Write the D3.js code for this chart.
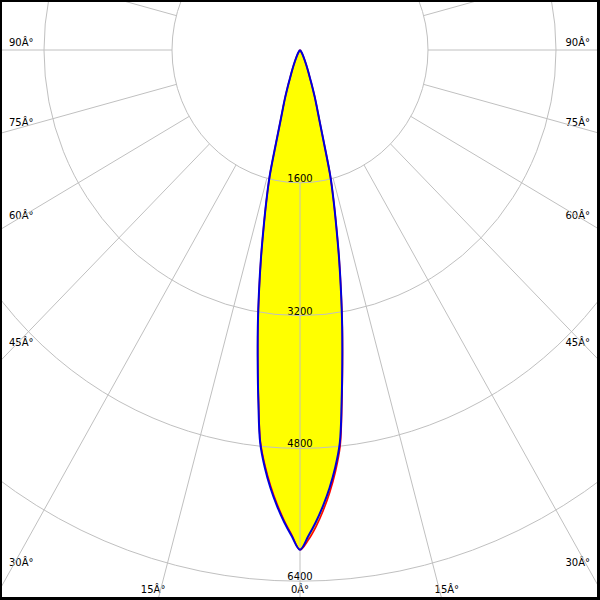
<!DOCTYPE html>
<html>
<head>
<meta charset="utf-8">
<script src="https://cdn.jsdelivr.net/npm/d3@7"></script>
<style>
html,body{margin:0;padding:0;background:#fff;}
svg{display:block;}
</style>
</head>
<body>
<script>
// ---- data ----
const angles = [0,1,2,3,4,5,6,7,8,9,10,11,12,13,14,15,16,17,18,19,20,22,25,30,35,40,50,60,70,80,90];
const blueRight = [6020,5860,5690,5500,5290,5050,4760,4270,3800,3370,2950,2560,2190,1870,1570,1150,880,720,600,480,380,260,150,70,30,12,3,0,0,0,0];
const blueLeft  = [6020,5860,5690,5500,5290,5050,4760,4270,3800,3370,2950,2560,2190,1870,1570,1150,880,720,600,480,380,260,150,70,30,12,3,0,0,0,0];
const redRight  = [6020,5905,5745,5555,5340,5095,4800,4295,3815,3380,2958,2566,2195,1873,1571,1150,880,720,600,480,380,260,150,70,30,12,3,0,0,0,0];
const redLeft   = [6020,5845,5672,5478,5265,5025,4740,4255,3790,3362,2945,2555,2188,1868,1568,1150,880,720,600,480,380,260,150,70,30,12,3,0,0,0,0];
const radialTicks = [1600,3200,4800,6400];
const sideTicks = [90,75,60,45,30];
const sideLabels = ["90Â°","75Â°","60Â°","45Â°","30Â°"];
const bottomTicks = [-15,0,15];
const bottomLabels = ["15Â°","0Â°","15Â°"];
const gridAngleStep = 15;

// ---- layout ----
const W = 600, H = 600;
const cx = 300, cy = 50;
const rx = d3.scaleLinear().domain([0,6400]).range([0,512]);
const ry = d3.scaleLinear().domain([0,6400]).range([0,531.2]);
const rad = d => d*Math.PI/180;
const pt = (a, I) => [cx + rx(I)*Math.sin(rad(a)), cy + ry(I)*Math.cos(rad(a))];

const svg = d3.select("body").append("svg").attr("width",W).attr("height",H);
svg.append("rect").attr("width",W).attr("height",H).attr("fill","#000");
svg.append("rect").attr("x",2).attr("y",2).attr("width",595).attr("height",595).attr("fill","#fff");
svg.append("clipPath").attr("id","clip").append("rect").attr("x",2).attr("y",2).attr("width",595).attr("height",595);
const g = svg.append("g").attr("clip-path","url(#clip)");

function curvePoints(left, right){
  const pts = [];
  for (let i = angles.length-1; i >= 0; i--) pts.push(pt(-angles[i], left[i]));
  for (let i = 1; i < angles.length; i++) pts.push(pt(angles[i], right[i]));
  return pts.filter((p,i) => i===0 || Math.hypot(p[0]-pts[i-1][0], p[1]-pts[i-1][1]) > 0.01);
}
const line = d3.line().curve(d3.curveCatmullRom.alpha(0.5));
const redPts = curvePoints(redLeft, redRight);
const bluePts = curvePoints(blueLeft, blueRight);

// yellow fill
g.append("path").attr("d", line(redPts)).attr("fill","#ffff00").attr("stroke","none");
g.append("path").attr("d", line(bluePts)).attr("fill","#ffff00").attr("stroke","none");

const font = "'DejaVu Sans', Verdana, sans-serif";
const fs = "10px";
// radial value labels
g.selectAll("text.rv").data(radialTicks).enter().append("text")
  .attr("x", cx).attr("y", d => cy + ry(d) - 1)
  .attr("text-anchor","middle").attr("font-family",font).attr("font-size",fs)
  .attr("fill","#000").text(d => d);

// side angle labels
sideTicks.forEach((a,i) => {
  const yy = cy + 300/Math.tan(rad(a)) - 4;
  g.append("text").attr("x",9).attr("y",yy).attr("font-family",font).attr("font-size",fs).attr("fill","#000").text(sideLabels[i]);
  g.append("text").attr("x",590).attr("y",yy).attr("text-anchor","end").attr("font-family",font).attr("font-size",fs).attr("fill","#000").text(sideLabels[i]);
});
// bottom angle labels
bottomTicks.forEach((a,i) => {
  const xx = cx + (598-cy)*Math.tan(rad(a));
  g.append("text").attr("x",xx).attr("y",593).attr("text-anchor","middle").attr("font-family",font).attr("font-size",fs).attr("fill","#000").text(bottomLabels[i]);
});

// grid circles
const gridCol = "#c0c0c0";
g.selectAll("ellipse.grid").data(radialTicks).enter().append("ellipse")
  .attr("cx",cx).attr("cy",cy).attr("rx",d=>rx(d)).attr("ry",d=>ry(d))
  .attr("fill","none").attr("stroke",gridCol).attr("stroke-width",1);
// radial lines
const gridAngles = d3.range(0,360,gridAngleStep);
g.selectAll("line.grid").data(gridAngles).enter().append("line")
  .attr("x1",a=>pt(a,radialTicks[0])[0]).attr("y1",a=>pt(a,radialTicks[0])[1])
  .attr("x2",a=>pt(a,14000)[0]).attr("y2",a=>pt(a,14000)[1])
  .attr("stroke",gridCol).attr("stroke-width",1);

// curves
g.append("path").attr("d", line(redPts)).attr("fill","none").attr("stroke","#ff0000").attr("stroke-width",1.6);
g.append("path").attr("d", line(bluePts)).attr("fill","none").attr("stroke","#0000dd").attr("stroke-width",2);
</script>
</body>
</html>
